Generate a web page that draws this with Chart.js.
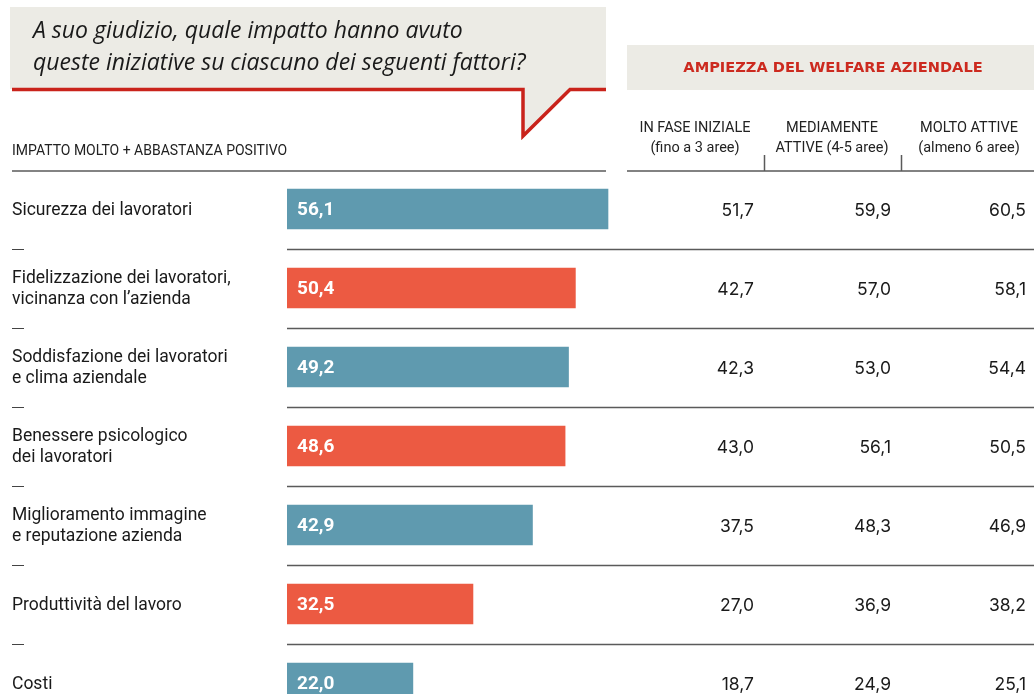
<!DOCTYPE html>
<html>
<head>
<meta charset="utf-8">
<script src="https://cdn.jsdelivr.net/npm/chart.js@4"></script>
<style>
  html, body { margin: 0; padding: 0; background: #fff; }
  body { width: 1034px; height: 694px; overflow: hidden; }
  #wrap { position: relative; width: 1034px; height: 730px; }
</style>
</head>
<body>
<div id="wrap"><canvas id="chart" width="1034" height="730"></canvas></div>
<script>
// Data
const categories = [
    ['Sicurezza dei lavoratori'],
    ['Fidelizzazione dei lavoratori,', 'vicinanza con l\u2019azienda'],
    ['Soddisfazione dei lavoratori', 'e clima aziendale'],
    ['Benessere psicologico', 'dei lavoratori'],
    ['Miglioramento immagine', 'e reputazione azienda'],
    ['Produttivit\u00e0 del lavoro'],
    ['Costi']
];
const totale = [56.1, 50.4, 49.2, 48.6, 42.9, 32.5, 22.0];
const faseIniziale = [51.7, 42.7, 42.3, 43.0, 37.5, 27.0, 18.7];
const mediamenteAttive = [59.9, 57.0, 53.0, 56.1, 48.3, 36.9, 24.9];
const moltoAttive = [60.5, 58.1, 54.4, 50.5, 46.9, 38.2, 25.1];
const columnHeaders = [
    ['IN FASE INIZIALE', '(fino a 3 aree)'],
    ['MEDIAMENTE', 'ATTIVE (4-5 aree)'],
    ['MOLTO ATTIVE', '(almeno 6 aree)']
];
const title = ['A suo giudizio, quale impatto hanno avuto', 'queste iniziative su ciascuno dei seguenti fattori?'];
const subtitle = 'IMPATTO MOLTO + ABBASTANZA POSITIVO';
const tableTitle = 'AMPIEZZA DEL WELFARE AZIENDALE';

const TEAL = '#5f9aaf';
const RED = '#ec5a42';
const GREY_BG = '#ecebe5';
const LINE = '#5a5a5a';

const fmt = v => v.toFixed(1).replace('.', ',');

// Everything around the bars: bubble, headers, table
const decorations = {
    id: 'decorations',
    beforeDatasetsDraw(chart) {
        const ctx = chart.ctx;
        const y = chart.scales.y;
        ctx.save();

        // speech bubble
        ctx.fillStyle = GREY_BG;
        ctx.fillRect(10, 7, 596, 82);
        ctx.beginPath();
        ctx.moveTo(523, 89);
        ctx.lineTo(523, 136);
        ctx.lineTo(570, 89);
        ctx.closePath();
        ctx.fill();
        ctx.strokeStyle = '#c9231b';
        ctx.lineWidth = 3.5;
        ctx.lineJoin = 'miter';
        ctx.beginPath();
        ctx.moveTo(12, 89.5);
        ctx.lineTo(523, 89.5);
        ctx.lineTo(523, 136);
        ctx.lineTo(570, 89.5);
        ctx.lineTo(606, 89.5);
        ctx.stroke();

        ctx.fillStyle = '#1a1a1a';
        ctx.font = 'italic 23px "Open Sans"';
        ctx.textBaseline = 'alphabetic';
        ctx.textAlign = 'left';
        ctx.fillText(title[0], 33, 38);
        ctx.fillText(title[1], 33, 70);

        // left subtitle
        ctx.font = '14px Roboto';
        ctx.fillStyle = '#222';
        ctx.textBaseline = 'middle';
        ctx.fillText(subtitle, 12, 151);
        ctx.strokeStyle = LINE;
        ctx.lineWidth = 1.5;
        ctx.beginPath();
        ctx.moveTo(12, 171);
        ctx.lineTo(606, 171);
        ctx.stroke();

        // table header
        ctx.fillStyle = GREY_BG;
        ctx.fillRect(627, 45, 407, 45);
        ctx.fillStyle = '#cc2a1f';
        ctx.font = 'bold 14.6px "DejaVu Sans"';
        ctx.textAlign = 'center';
        ctx.fillText(tableTitle, 833, 68);

        const colCenters = [695, 832, 969];
        ctx.fillStyle = '#222';
        ctx.font = '14.5px Roboto';
        columnHeaders.forEach((h, i) => {
            ctx.fillText(h[0], colCenters[i], 128);
            ctx.fillText(h[1], colCenters[i], 148);
        });
        ctx.beginPath();
        ctx.moveTo(627, 171);
        ctx.lineTo(1034, 171);
        ctx.moveTo(764.5, 155);
        ctx.lineTo(764.5, 171);
        ctx.moveTo(901.5, 155);
        ctx.lineTo(901.5, 171);
        ctx.stroke();

        // row labels, separators
        ctx.textAlign = 'left';
        categories.forEach((lines, i) => {
            const cy = y.getPixelForValue(i) + 1.5;
            ctx.fillStyle = '#1a1a1a';
            ctx.font = '17.5px Roboto';
            const start = cy - (lines.length - 1) * 10.5;
            lines.forEach((t, k) => ctx.fillText(t, 12, start + k * 21));
            if (i < categories.length - 1) {
                const sy = Math.round((y.getPixelForValue(i) + y.getPixelForValue(i + 1)) / 2) + 0.5;
                ctx.strokeStyle = LINE;
                ctx.lineWidth = 1.5;
                ctx.beginPath();
                ctx.moveTo(287, sy);
                ctx.lineTo(1034, sy);
                ctx.stroke();
                ctx.lineWidth = 1;
                ctx.strokeStyle = '#444';
                ctx.beginPath();
                ctx.moveTo(12, sy);
                ctx.lineTo(24, sy);
                ctx.stroke();
            }
        });
        ctx.restore();
    },
    afterDatasetsDraw(chart) {
        const ctx = chart.ctx;
        const y = chart.scales.y;
        ctx.save();
        ctx.textBaseline = 'middle';
        // values inside bars
        ctx.fillStyle = '#fff';
        ctx.font = 'bold 19px Roboto';
        ctx.textAlign = 'left';
        totale.forEach((v, i) => ctx.fillText(fmt(v), 297, y.getPixelForValue(i) + 1.5));
        // table values
        ctx.fillStyle = '#1a1a1a';
        ctx.font = '17.5px Inter';
        ctx.textAlign = 'right';
        const cols = [faseIniziale, mediamenteAttive, moltoAttive];
        const rights = [754, 891, 1026];
        cols.forEach((arr, c) => {
            arr.forEach((v, i) => ctx.fillText(fmt(v), rights[c], y.getPixelForValue(i) + 1.5));
        });
        ctx.restore();
    }
};

new Chart(document.getElementById('chart').getContext('2d'), {
    type: 'bar',
    data: {
        labels: categories.map(l => l.join(' ')),
        datasets: [{
            data: totale,
            backgroundColor: totale.map((_, i) => i % 2 === 0 ? TEAL : RED),
            barThickness: 40,
            borderWidth: 0
        }]
    },
    options: {
        indexAxis: 'y',
        responsive: false,
        animation: false,
        layout: { padding: { left: 287, right: 0, top: 169.5, bottom: 7.5 } },
        scales: {
            x: { display: false, min: 0, max: 56.1 * 747 / 321 },
            y: { display: false, offset: true }
        },
        plugins: {
            legend: { display: false },
            tooltip: { enabled: false }
        }
    },
    plugins: [decorations]
});
</script>
</body>
</html>
